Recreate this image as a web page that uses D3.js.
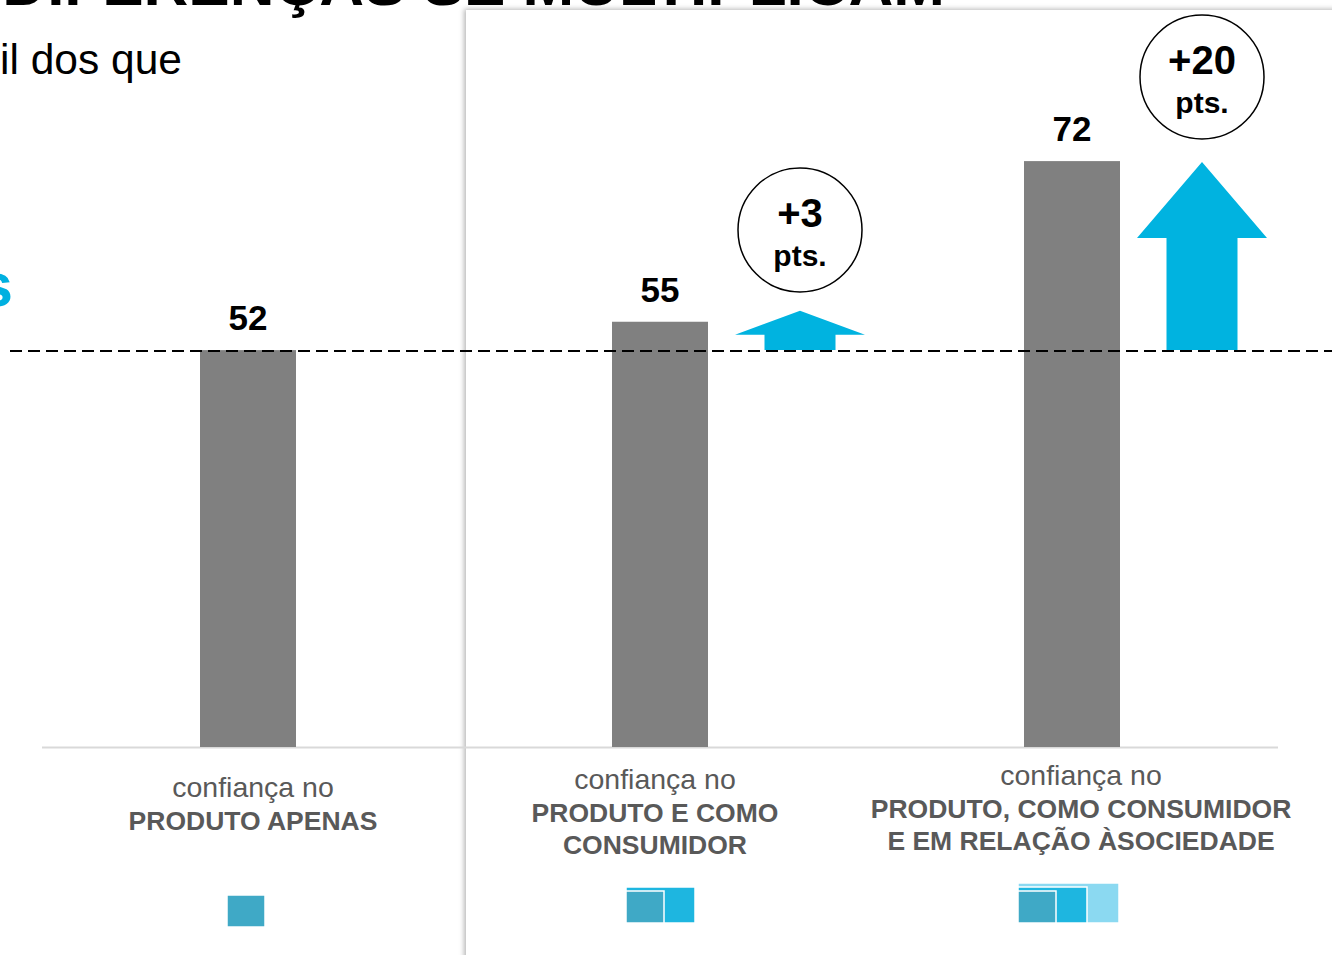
<!DOCTYPE html>
<html><head><meta charset="utf-8">
<script src="https://cdn.jsdelivr.net/npm/d3@7"></script>
<style>html,body{margin:0;padding:0;background:#fff;overflow:hidden}svg{display:block;font-family:"Liberation Sans",Arial,sans-serif}</style>
</head><body>
<script>
const categories = ["produto", "produtoConsumidor", "produtoConsumidorSociedade"];
const values = [52, 55, 72];
const labelLine1 = ["confiança no", "confiança no", "confiança no"];
const labelBold = [["PRODUTO APENAS"], ["PRODUTO E COMO", "CONSUMIDOR"], ["PRODUTO, COMO CONSUMIDOR", "E EM RELAÇÃO ÀSOCIEDADE"]];
const gains = [null, "+3", "+20"];
const gainUnit = "pts.";
const baselineValue = 52;
const titleText = "AS DIFERENÇAS SE MULTIPLICAM";
const subText = "il dos que";
const blueText = "s";

const W = 1332, H = 955;
const svg = d3.select("body").append("svg").attr("width", W).attr("height", H);
const defs = svg.append("defs");
const f = defs.append("filter").attr("id","sh").attr("x","-5%").attr("y","-5%").attr("width","110%").attr("height","110%");
f.append("feDropShadow").attr("dx",-2).attr("dy",-1).attr("stdDeviation",2.5).attr("flood-color","#000").attr("flood-opacity",0.28);

// title (cut at top)
svg.append("text").attr("x",945).attr("y",5).attr("text-anchor","end")
  .attr("font-size",62).attr("font-weight","bold").attr("fill","#000").text(titleText);

// panel
svg.append("rect").attr("x",466).attr("y",10).attr("width",W).attr("height",H).attr("fill","#fff").attr("filter","url(#sh)");

// left texts
svg.append("text").attr("x",0).attr("y",74).attr("font-size",42.5).attr("fill","#000").text(subText);
svg.append("text").attr("x",13).attr("y",306).attr("text-anchor","end").attr("font-size",62).attr("font-weight","bold").attr("fill","#00b0e0").text(blueText);

const x = d3.scaleBand().domain(categories).range([42, 1278]).padding(0);
const y = d3.scaleLinear().domain([10, 80]).range([747, 747 - 70*9.45]);
const barW = 96;
const cx = c => x(c) + x.bandwidth()/2;

// axis line
svg.append("line").attr("x1",42).attr("x2",1278).attr("y1",747.5).attr("y2",747.5).attr("stroke","#d9d9d9").attr("stroke-width",2);

// bars
svg.selectAll("rect.bar").data(categories).join("rect").attr("class","bar")
  .attr("x", c => cx(c) - barW/2).attr("width", barW)
  .attr("y", (c,i) => y(values[i])).attr("height", (c,i) => y(10) - y(values[i]))
  .attr("fill","#808080");

// value labels
svg.selectAll("text.val").data(categories).join("text").attr("class","val")
  .attr("x", cx).attr("y", (c,i) => y(values[i]) - 20)
  .attr("text-anchor","middle").attr("font-size",35).attr("font-weight","bold").attr("fill","#000")
  .text((c,i) => values[i]);

// arrows
const arrowDx = [0, 140, 130];
const arrowTipOffset = [0, -11, 1];
const headH = [0, 24, 76];
const headW = 130, stemW = 71;
categories.forEach((c,i) => {
  if (!gains[i]) return;
  const ax = cx(c) + arrowDx[i];
  const base = y(baselineValue);
  const tip = y(values[i]) + arrowTipOffset[i];
  const hb = tip + headH[i];
  const pts = [[ax - stemW/2, base],[ax - stemW/2, hb],[ax - headW/2, hb],[ax, tip],[ax + headW/2, hb],[ax + stemW/2, hb],[ax + stemW/2, base]];
  svg.append("path").attr("d", d3.line()(pts) + "Z").attr("fill","#00b3e0");
});

// dashed baseline
svg.append("line").attr("x1",10).attr("x2",W).attr("y1",351).attr("y2",351)
  .attr("stroke","#000").attr("stroke-width",2).attr("stroke-dasharray","12,6");

// circles
const circleCY = [0, 230, 77];
categories.forEach((c,i) => {
  if (!gains[i]) return;
  const ax = cx(c) + arrowDx[i];
  const cy = circleCY[i];
  svg.append("circle").attr("cx",ax).attr("cy",cy).attr("r",62).attr("fill","#fff").attr("stroke","#000").attr("stroke-width",1.5);
  svg.append("text").attr("x",ax).attr("y",cy - 3).attr("text-anchor","middle").attr("font-size",40).attr("font-weight","bold").text(gains[i]);
  svg.append("text").attr("x",ax).attr("y",cy + 36).attr("text-anchor","middle").attr("font-size",30).attr("font-weight","bold").text(gainUnit);
});

// category labels
const labelDx = [5, -5, 9];
const labelTop = [797, 789, 785];
categories.forEach((c,i) => {
  const lx = cx(c) + labelDx[i];
  svg.append("text").attr("x",lx).attr("y",labelTop[i]).attr("text-anchor","middle").attr("font-size",28.5).attr("fill","#595959").text(labelLine1[i]);
  labelBold[i].forEach((t,j) => {
    svg.append("text").attr("x",lx).attr("y",labelTop[i] + 33 + j*32).attr("text-anchor","middle").attr("font-size",26.5).attr("font-weight","bold").attr("fill","#595959").text(t);
  });
});

// icons
const iconColors = ["#3fa9c6", "#1eb6e0", "#8bd9f1"];
const iconLeft = [227, 626, 1018];
const iconBottom = [927, 923, 923];
const sqW = [38, 30, 31];
categories.forEach((c,i) => {
  const n = i + 1;
  for (let k = n - 1; k >= 0; k--) {
    let w = 0; for (let m = 0; m <= k; m++) w += sqW[m] + (m>0?1:0);
    const top = iconBottom[i] - 32 - k*4;
    svg.append("rect").attr("x", iconLeft[i]).attr("y", top).attr("width", w).attr("height", iconBottom[i] - top)
      .attr("fill", iconColors[k]).attr("stroke","#fff").attr("stroke-width",1.5);
  }
});
</script>
</body></html>
